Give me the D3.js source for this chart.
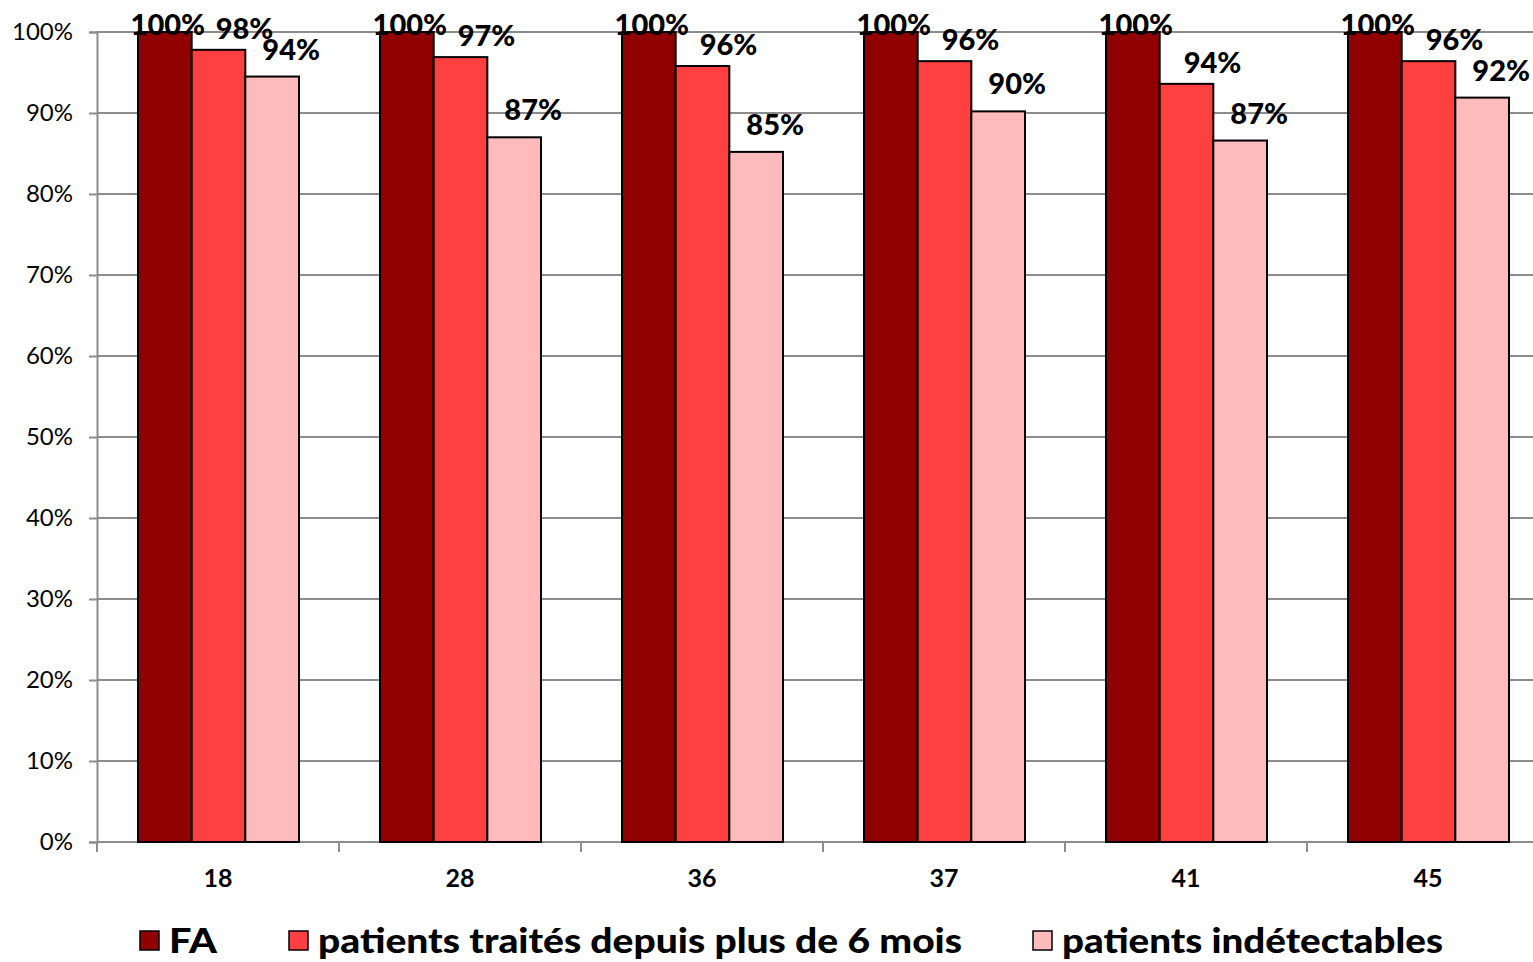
<!DOCTYPE html>
<html><head><meta charset="utf-8">
<script src="https://cdn.jsdelivr.net/npm/d3@7"></script>
<style>body{margin:0;background:#fff;} svg{display:block;font-family:Lato,"Open Sans",sans-serif;}</style>
</head><body>
<svg id="c" width="1533" height="962"></svg>
<script>
const categories = ["18","28","36","37","41","45"];
const seriesNames = ["FA","patients traités depuis plus de 6 mois","patients indétectables"];
const faValues = [100,100,100,100,100,100];
const traitesValues = [97.8,96.9,95.8,96.4,93.6,96.4];
const indetValues = [94.5,87.0,85.2,90.2,86.6,91.9];
const faLabels = ["100%","100%","100%","100%","100%","100%"];
const traitesLabels = ["98%","97%","96%","96%","94%","96%"];
const indetLabels = ["94%","87%","85%","90%","87%","92%"];
const yTicks = [0,10,20,30,40,50,60,70,80,90,100];
const colors = ["#900000","#FF4040","#FFBBBB"];

const series = [faValues, traitesValues, indetValues];
const labels = [faLabels, traitesLabels, indetLabels];
const labelDx = [3, 26, 19];
const labelDy = [10, 11, 17];

const svg = d3.select("#c");
const plotLeft = 97, plotTop = 32, plotBottom = 842;
const x = d3.scaleBand().domain(categories).range([plotLeft, plotLeft + 242*6]);
const y = d3.scaleLinear().domain([0,100]).range([plotBottom, plotTop]);
const inner = d3.scaleBand().domain([0,1,2]).range([41, 41+161]);

// gridlines
svg.append("g").selectAll("line").data(yTicks.filter(d=>d>0)).join("line")
  .attr("x1", plotLeft).attr("x2", 1533).attr("y1", d=>y(d)).attr("y2", d=>y(d))
  .attr("stroke", "#8c8c8c").attr("stroke-width", 2);

// y axis
const ya = svg.append("g").attr("transform", `translate(${plotLeft},0)`)
  .call(d3.axisLeft(y).tickValues(yTicks).tickFormat(d=>d+"%").tickSize(8).tickPadding(16));
ya.select(".domain").attr("stroke","#8c8c8c").attr("stroke-width",2);
ya.selectAll(".tick line").attr("stroke","#8c8c8c").attr("stroke-width",2);
ya.selectAll("text").attr("font-size",24).attr("fill","#000").attr("font-family","Lato");

// x axis
const xa = svg.append("g").attr("transform", `translate(0,${plotBottom})`)
  .call(d3.axisBottom(x).tickSize(0).tickPadding(27));
xa.select(".domain").attr("stroke","#8c8c8c").attr("stroke-width",2).attr("d", `M${plotLeft},0H1533`);
xa.selectAll("text").attr("font-size",25).attr("font-weight","bold").attr("fill","#000").attr("font-family","Lato");
svg.append("g").selectAll("line").data(d3.range(7)).join("line")
  .attr("x1", i=>plotLeft+242*i).attr("x2", i=>plotLeft+242*i).attr("y1", plotBottom).attr("y2", plotBottom+10)
  .attr("stroke","#8c8c8c").attr("stroke-width",2);

// bars
series.forEach((vals, s) => {
  svg.append("g").selectAll("rect").data(vals).join("rect")
    .attr("x", (d,i)=>x(categories[i]) + inner(s))
    .attr("y", d=>y(d))
    .attr("width", inner.bandwidth())
    .attr("height", d=>plotBottom - y(d))
    .attr("fill", colors[s]).attr("stroke","#000").attr("stroke-width",2);
});
// labels
series.forEach((vals, s) => {
  svg.append("g").selectAll("text").data(vals).join("text")
    .attr("x", (d,i)=>x(categories[i]) + inner(s) + inner.bandwidth()/2 + labelDx[s])
    .attr("y", d=>Math.max(y(d)-labelDy[s], 35))
    .attr("text-anchor","middle").attr("font-size",29).attr("font-weight","900").attr("fill","#000")
    .text((d,i)=>labels[s][i]);
});

// legend
const legX = [140, 289, 1033];
const legW = [48, 644, 381];
seriesNames.forEach((n, s) => {
  svg.append("rect").attr("x", legX[s]).attr("y", 931).attr("width", 19).attr("height", 19)
    .attr("fill", colors[s]).attr("stroke","#000").attr("stroke-width",1.5);
  svg.append("text").attr("x", legX[s]+29).attr("y", 953).attr("font-size",34).attr("font-weight","900")
    .attr("textLength", legW[s]).attr("lengthAdjust","spacingAndGlyphs")
    .attr("fill","#000").text(n);
});
</script>
</body></html>
